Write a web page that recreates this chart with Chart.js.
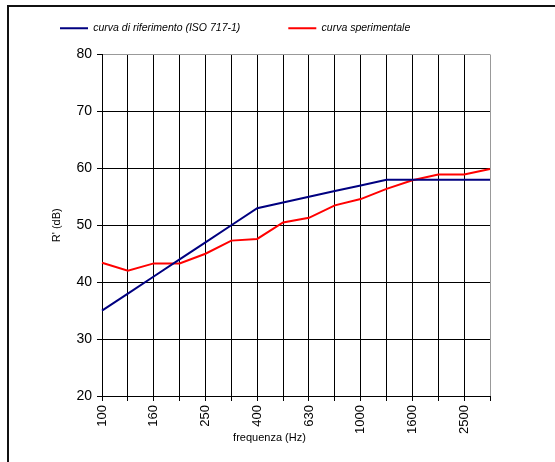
<!DOCTYPE html>
<html>
<head>
<meta charset="utf-8">
<script src="https://cdn.jsdelivr.net/npm/chart.js@4"></script>
<style>
    html, body { margin: 0; padding: 0; background: #fff; overflow: hidden; }
    .wrap { position: relative; width: 555px; height: 462px; }
    .frame {
        position: absolute; left: 7px; top: 5px; width: 600px; height: 500px;
        border-top: 2px solid #111; border-left: 2px solid #111;
    }
    canvas { position: absolute; left: 0; top: 0; }
</style>
</head>
<body>
<div class="wrap">
    <div class="frame"></div>
    <canvas id="chart" width="555" height="462"></canvas>
</div>
<script>
// third-octave bands (Hz)
const frequencies = ['100', '125', '160', '200', '250', '315', '400', '500',
    '630', '800', '1000', '1250', '1600', '2000', '2500', '3150'];

// shifted ISO 717-1 reference curve (dB)
const referenceCurve = [35, 38, 41, 44, 47, 50, 53, 54, 55, 56, 57, 58, 58, 58, 58, 58];

// measured apparent sound reduction index R' (dB)
const measuredCurve = [43.4, 42.0, 43.3, 43.3, 45.0, 47.3, 47.6, 50.5,
    51.3, 53.5, 54.6, 56.4, 57.9, 58.9, 58.9, 59.9];

const yTicks = { min: 20, max: 80, step: 10 };

// x axis title sits centred on the whole frame, not on the plot area
const xTitlePlugin = {
    id: 'xTitle',
    afterDraw(chart) {
        const ctx = chart.ctx;
        ctx.save();
        ctx.font = '11px "Liberation Sans", Arial, sans-serif';
        ctx.fillStyle = '#000';
        ctx.textAlign = 'center';
        ctx.textBaseline = 'middle';
        ctx.fillText('frequenza (Hz)', chart.width / 2 - 8, 438);
        ctx.restore();
    }
};

// extra room below the legend row before the plot starts
const legendGapPlugin = {
    id: 'legendGap',
    beforeLayout(chart) {
        const legend = chart.legend;
        if (legend && !legend._gapAdded) {
            const fit = legend.fit;
            legend.fit = function() {
                fit.call(this);
                this.height += 11;
            };
            legend._gapAdded = true;
        }
    }
};

const ctx = document.getElementById('chart').getContext('2d');
const lastIndex = frequencies.length - 1;

new Chart(ctx, {
    type: 'line',
    data: {
        labels: frequencies,
        datasets: [{
            label: 'curva di riferimento (ISO 717-1)',
            data: referenceCurve,
            borderColor: '#000080',
            backgroundColor: '#000080',
            borderWidth: 2,
            pointRadius: 0,
            tension: 0
        }, {
            label: 'curva sperimentale',
            data: measuredCurve,
            borderColor: '#ff0000',
            backgroundColor: '#ff0000',
            borderWidth: 2,
            pointRadius: 0,
            tension: 0
        }]
    },
    options: {
        responsive: false,
        animation: false,
        layout: {
            padding: { left: 12, right: 65, top: -25, bottom: 0 }
        },
        plugins: {
            legend: {
                display: true,
                position: 'top',
                align: 'start',
                labels: {
                    usePointStyle: true,
                    pointStyle: 'line',
                    pointStyleWidth: 28,
                    padding: 48,
                    color: '#000',
                    font: { family: '"Liberation Sans", Arial, sans-serif', size: 10.5, style: 'italic' }
                }
            },
            tooltip: { enabled: false }
        },
        scales: {
            x: {
                offset: false,
                afterFit: scale => { scale.height = 66; },
                grid: {
                    color: c => c.index === lastIndex ? '#999' : '#000',
                    lineWidth: 1,
                    tickLength: 5,
                    tickColor: '#000'
                },
                border: { color: '#000', width: 1 },
                ticks: {
                    autoSkip: false,
                    minRotation: 90,
                    maxRotation: 90,
                    padding: 4,
                    color: '#000',
                    font: { family: '"Liberation Sans", Arial, sans-serif', size: 13 },
                    callback: (value, index) => index % 2 === 0 ? frequencies[index] : ''
                }
            },
            y: {
                min: yTicks.min,
                max: yTicks.max,
                afterFit: scale => { scale.width = 90; },
                grid: {
                    color: c => c.tick && c.tick.value === yTicks.max ? '#999' : '#000',
                    lineWidth: 1,
                    tickLength: 5,
                    tickColor: '#000'
                },
                border: { color: '#000', width: 1 },
                ticks: {
                    stepSize: yTicks.step,
                    padding: 5,
                    color: '#000',
                    font: { family: '"Liberation Sans", Arial, sans-serif', size: 14 }
                },
                title: {
                    display: true,
                    text: "R' (dB)",
                    color: '#000',
                    padding: { top: 38, bottom: 0 },
                    font: { family: '"Liberation Sans", Arial, sans-serif', size: 11 }
                }
            }
        }
    },
    plugins: [xTitlePlugin, legendGapPlugin]
});
</script>
</body>
</html>
